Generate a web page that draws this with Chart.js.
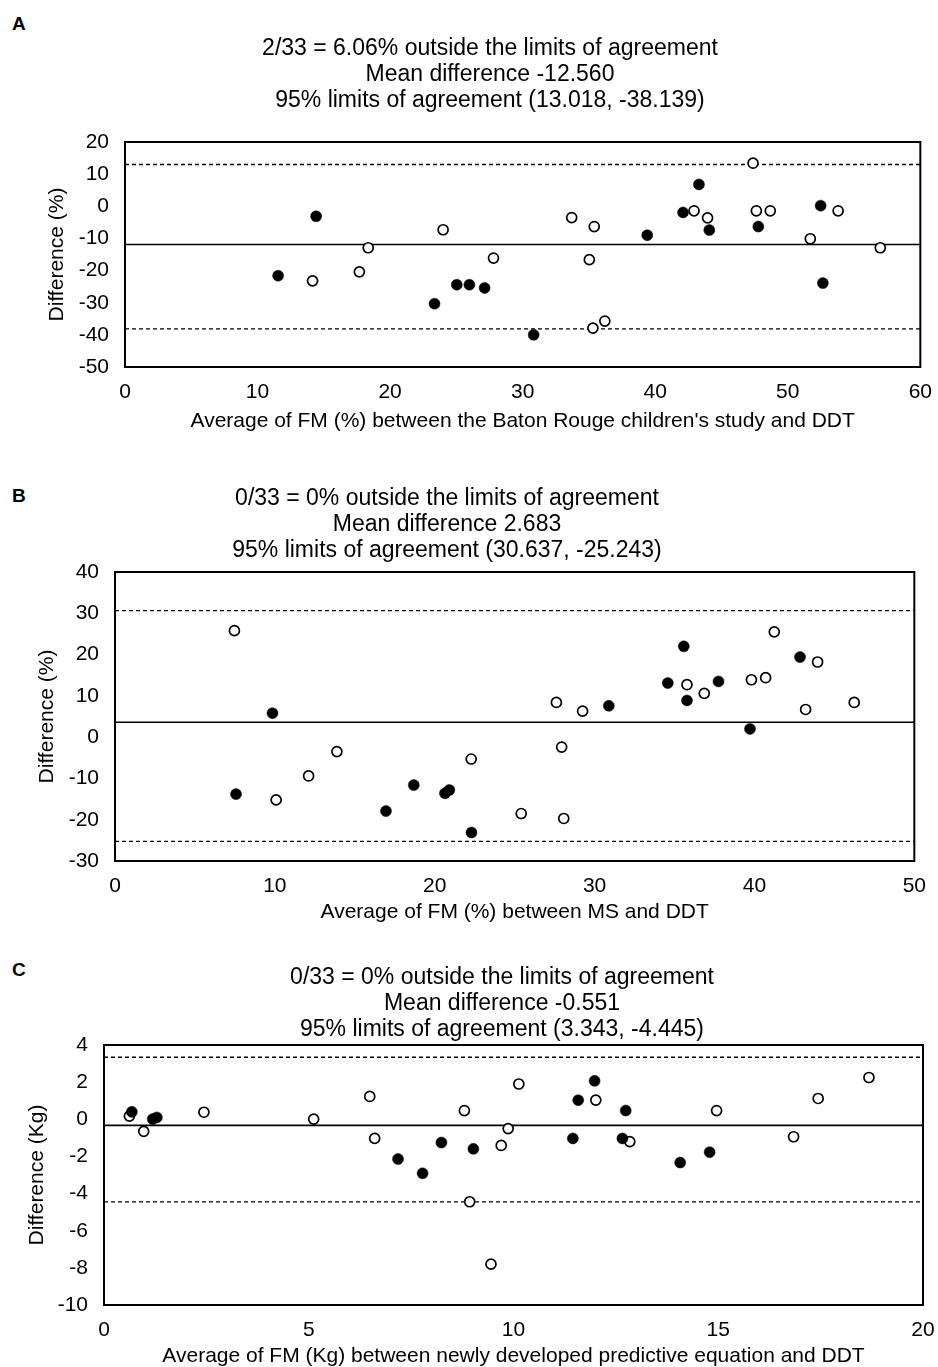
<!DOCTYPE html>
<html><head><meta charset="utf-8">
<script src="https://cdn.jsdelivr.net/npm/chart.js@4.4.1/dist/chart.umd.min.js"></script>
<style>
html,body{margin:0;padding:0;background:#fff;overflow:hidden;width:938px;height:1367px;position:relative;}
canvas{position:absolute;}
.lbl{position:absolute;font:bold 19px "Liberation Sans",Arial,sans-serif;line-height:22px;color:#000;}
</style></head><body>
<div class="lbl" style="left:12px;top:13px">A</div>
<div class="lbl" style="left:12px;top:485px">B</div>
<div class="lbl" style="left:12px;top:959px">C</div>
<canvas id="cA"></canvas>
<canvas id="cB"></canvas>
<canvas id="cC"></canvas>
<script>
// ---------- Panel A data ----------
const titleA = ["2/33 = 6.06% outside the limits of agreement", "Mean difference -12.560", "95% limits of agreement (13.018, -38.139)"];
const xTitleA = "Average of FM (%) between the Baton Rouge children's study and DDT";
const yTitleA = "Difference (%)";
const xTicksA = [0, 10, 20, 30, 40, 50, 60];
const yTicksA = [-50, -40, -30, -20, -10, 0, 10, 20];
const filledXA = [11.55, 14.42, 23.35, 25.03, 25.98, 27.13, 30.83, 39.4, 42.1, 43.3, 44.08, 47.78, 52.48, 52.65];
const filledYA = [-21.6, -3.1, -30.3, -24.4, -24.4, -25.4, -40.0, -9.0, -1.9, 6.8, -7.4, -6.3, 0.2, -23.9];
const openXA = [14.15, 17.68, 18.35, 24.0, 27.8, 33.7, 35.4, 35.03, 35.3, 36.2, 42.93, 43.95, 47.38, 47.63, 48.68, 51.7, 53.8, 56.98];
const openYA = [-23.2, -20.4, -12.9, -7.3, -16.1, -3.5, -6.3, -16.6, -37.9, -35.7, -1.4, -3.6, 13.4, -1.4, -1.4, -10.1, -1.4, -12.9];
const meanLineA = -11.9;
const upperLoAA = 13.018;
const lowerLoAA = -38.139;

// ---------- Panel B data ----------
const titleB = ["0/33 = 0% outside the limits of agreement", "Mean difference 2.683", "95% limits of agreement (30.637, -25.243)"];
const xTitleB = "Average of FM (%) between MS and DDT";
const yTitleB = "Difference (%)";
const xTicksB = [0, 10, 20, 30, 40, 50];
const yTicksB = [-30, -20, -10, 0, 10, 20, 30, 40];
const filledXB = [9.85, 7.57, 16.95, 18.69, 20.64, 20.91, 22.3, 30.89, 34.58, 35.58, 35.78, 37.75, 39.72, 42.85];
const filledYB = [5.8, -13.8, -17.9, -11.6, -13.6, -12.8, -23.1, 7.6, 13.1, 22.0, 8.9, 13.5, 2.0, 19.4];
const openXB = [7.47, 10.08, 12.11, 13.88, 22.28, 25.41, 28.07, 27.94, 27.61, 29.25, 35.78, 36.86, 39.81, 40.7, 41.24, 43.95, 43.2, 46.24];
const openYB = [25.8, -15.2, -9.4, -3.5, -5.3, -18.5, -19.7, -2.4, 8.4, 6.3, 12.7, 10.6, 13.9, 14.4, 25.5, 18.2, 6.7, 8.4];
const meanLineB = 3.6;
const upperLoAB = 30.637;
const lowerLoAB = -25.243;

// ---------- Panel C data ----------
const titleC = ["0/33 = 0% outside the limits of agreement", "Mean difference -0.551", "95% limits of agreement (3.343, -4.445)"];
const xTitleC = "Average of FM (Kg) between newly developed predictive equation and DDT";
const yTitleC = "Difference (Kg)";
const xTicksC = [0, 5, 10, 15, 20];
const yTicksC = [-10, -8, -6, -4, -2, 0, 2, 4];
const filledXC = [0.68, 1.19, 1.29, 7.18, 7.78, 8.24, 9.02, 11.45, 11.58, 11.98, 12.66, 12.74, 14.07, 14.79];
const filledYC = [0.4, 0.01, 0.1, -2.14, -2.91, -1.25, -1.59, -1.03, 1.03, 2.07, -1.03, 0.47, -2.33, -1.77];
const openXC = [0.62, 0.97, 2.44, 5.12, 6.49, 6.61, 8.8, 8.93, 9.45, 9.7, 9.87, 10.13, 12.01, 12.84, 14.96, 16.84, 17.44, 18.68];
const openYC = [0.17, -0.65, 0.38, 0.01, 1.23, -1.03, 0.47, -4.44, -7.8, -1.41, -0.5, 1.9, 1.03, -1.2, 0.47, -0.94, 1.12, 2.25];
const meanLineC = -0.33;
const upperLoAC = 3.343;
const lowerLoAC = -4.445;

// ---------- layout (positions / sizes only) ----------
const geoA = {x0: 35, y0: 0, W: 910, H: 434, yw: 90, k: 20, xh: 67, tpt: 36, tpb: 28, ytp: 9.4};
const geoB = {x0: -45, y0: 440, W: 984, H: 485, yw: 160, k: 20, xh: 64, tpt: 46, tpb: 8, ytp: 79.4};
const geoC = {x0: 10, y0: 930, W: 984, H: 439, yw: 94, k: 71, xh: 64, tpt: 35, tpb: 2, ytp: 14.4};

Chart.defaults.font.family = '"Liberation Sans", Arial, sans-serif';
Chart.defaults.color = '#000';

const framePlugin = {
  id: 'frame',
  afterDatasetsDraw(chart) {
    const {ctx, chartArea: a} = chart;
    ctx.save();
    ctx.strokeStyle = '#000';
    ctx.lineWidth = 2;
    ctx.strokeRect(a.left, a.top, a.right - a.left, a.bottom - a.top);
    ctx.restore();
  }
};

function makePanel(id, g, d) {
  const cv = document.getElementById(id);
  cv.width = g.W; cv.height = g.H;
  cv.style.left = g.x0 + 'px'; cv.style.top = g.y0 + 'px';
  cv.style.width = g.W + 'px'; cv.style.height = g.H + 'px';
  const pts = (xs, ys) => xs.map((x, i) => ({x: x, y: ys[i]}));
  const xMin = d.xTicks[0], xMax = d.xTicks[d.xTicks.length - 1];
  const yMin = d.yTicks[0], yMax = d.yTicks[d.yTicks.length - 1];
  const hline = v => [{x: xMin, y: v}, {x: xMax, y: v}];
  new Chart(cv, {
    type: 'scatter',
    data: {
      datasets: [
        {label: 'filled', data: pts(d.fx, d.fy), pointRadius: 5.5, pointBackgroundColor: '#000', pointBorderColor: '#000', pointBorderWidth: 0.5},
        {label: 'open', data: pts(d.ox, d.oy), pointRadius: 5, pointBackgroundColor: '#fff', pointBorderColor: '#000', pointBorderWidth: 1.7},
        {label: 'mean', data: hline(d.mean), showLine: true, pointRadius: 0, borderColor: '#000', borderWidth: 1.6},
        {label: 'upper', data: hline(d.upper), showLine: true, pointRadius: 0, borderColor: '#000', borderWidth: 1.4, borderDash: [4, 3]},
        {label: 'lower', data: hline(d.lower), showLine: true, pointRadius: 0, borderColor: '#000', borderWidth: 1.4, borderDash: [4, 3]}
      ]
    },
    options: {
      responsive: false, animation: false, devicePixelRatio: 1,
      layout: {padding: 0},
      plugins: {
        legend: {display: false}, tooltip: {enabled: false},
        title: {display: true, text: d.title, color: '#000', font: {size: 23, weight: 'normal', lineHeight: 26 / 23}, padding: {top: g.tpt, bottom: g.tpb}}
      },
      scales: {
        x: {
          type: 'linear', position: 'bottom', min: xMin, max: xMax,
          afterBuildTicks: s => { s.ticks = d.xTicks.map(v => ({value: v})); },
          grid: {display: false, drawTicks: false}, border: {display: false},
          ticks: {font: {size: 21}, color: '#000', padding: 13, autoSkip: false, maxRotation: 0, callback: v => String(v)},
          title: {display: true, text: d.xTitle, color: '#000', font: {size: 21}, padding: 0},
          afterFit: s => { s.height = g.xh; }
        },
        y: {
          type: 'linear', position: 'left', min: yMin, max: yMax,
          afterBuildTicks: s => { s.ticks = d.yTicks.map(v => ({value: v})); },
          grid: {display: false, drawTicks: false}, border: {display: false},
          ticks: {font: {size: 21}, color: '#000', padding: 16, autoSkip: false, callback: v => String(v)},
          title: {display: true, text: d.yTitle, color: '#000', font: {size: 21}, padding: {top: g.ytp, bottom: 0}},
          afterFit: s => { s.width = g.yw; }
        },
        yr: {
          type: 'linear', position: 'right', display: true,
          grid: {display: false, drawTicks: false}, border: {display: false},
          ticks: {display: false},
          afterFit: s => { s.width = g.k; }
        }
      }
    },
    plugins: [framePlugin]
  });
}

makePanel('cA', geoA, {title: titleA, xTitle: xTitleA, yTitle: yTitleA, xTicks: xTicksA, yTicks: yTicksA,
  fx: filledXA, fy: filledYA, ox: openXA, oy: openYA, mean: meanLineA, upper: upperLoAA, lower: lowerLoAA});
makePanel('cB', geoB, {title: titleB, xTitle: xTitleB, yTitle: yTitleB, xTicks: xTicksB, yTicks: yTicksB,
  fx: filledXB, fy: filledYB, ox: openXB, oy: openYB, mean: meanLineB, upper: upperLoAB, lower: lowerLoAB});
makePanel('cC', geoC, {title: titleC, xTitle: xTitleC, yTitle: yTitleC, xTicks: xTicksC, yTicks: yTicksC,
  fx: filledXC, fy: filledYC, ox: openXC, oy: openYC, mean: meanLineC, upper: upperLoAC, lower: lowerLoAC});
</script>
</body></html>
